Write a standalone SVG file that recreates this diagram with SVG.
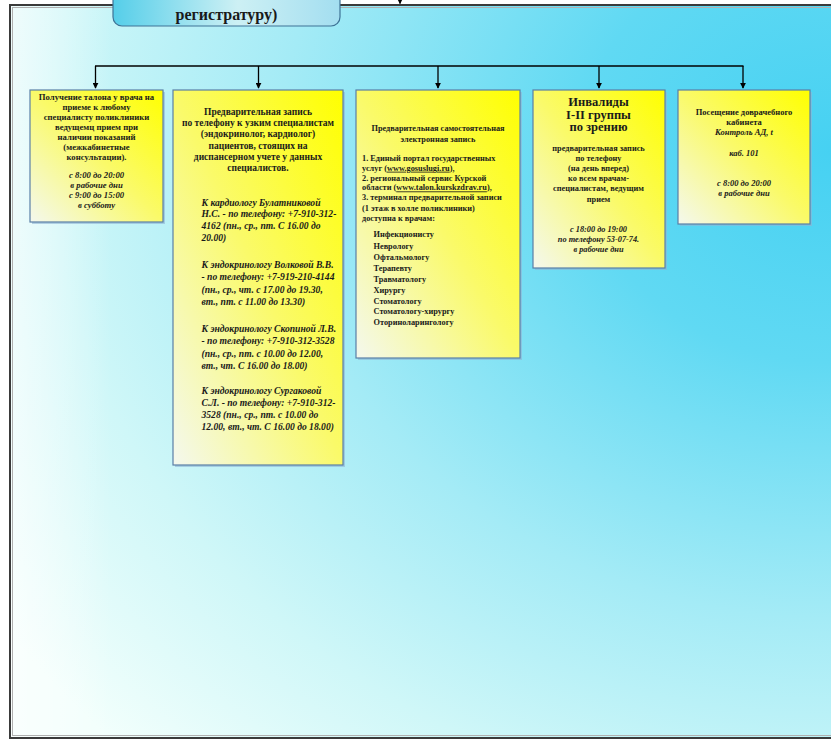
<svg xmlns="http://www.w3.org/2000/svg" width="831" height="741" viewBox="0 0 831 741">
<defs>
  <radialGradient id="bg" gradientUnits="userSpaceOnUse" cx="831" cy="150" r="1000" gradientTransform="translate(831 150) scale(1 0.85) translate(-831 -150)">
    <stop offset="0" stop-color="#46d1f2"/>
    <stop offset="0.25" stop-color="#60d9f3"/>
    <stop offset="0.55" stop-color="#a4ebf6"/>
    <stop offset="0.78" stop-color="#cff7f8"/>
    <stop offset="1" stop-color="#f2fffc"/>
  </radialGradient>
  <linearGradient id="edge" x1="0" y1="0" x2="1" y2="0">
    <stop offset="0" stop-color="#ffffff" stop-opacity="0.6"/>
    <stop offset="0.12" stop-color="#ffffff" stop-opacity="0"/>
    <stop offset="1" stop-color="#ffffff" stop-opacity="0"/>
  </linearGradient>
  <linearGradient id="hdr" x1="0" y1="0" x2="1" y2="0">
    <stop offset="0" stop-color="#55cee9"/>
    <stop offset="0.55" stop-color="#cdf0f4"/>
    <stop offset="1" stop-color="#a3def0"/>
  </linearGradient>
  <linearGradient id="yel" x1="1" y1="0" x2="0" y2="1">
    <stop offset="0" stop-color="#ffff00"/>
    <stop offset="0.5" stop-color="#fafa6a"/>
    <stop offset="1" stop-color="#f4f8ee"/>
  </linearGradient>
  <marker id="arr" viewBox="0 0 8 8" refX="7" refY="4" markerWidth="6" markerHeight="6" orient="auto" markerUnits="userSpaceOnUse">
    <path d="M0,0 L8,4 L0,8 Z" fill="#000"/>
  </marker>
  <style>
    .box{fill:url(#yel);stroke:#5a7fa6;stroke-width:1.2}
    .sh{fill:#8fb4d4;opacity:0.6}
    .t{font-family:"Liberation Serif","Times New Roman",serif;font-weight:bold;fill:#1a1a1a}
    .c{text-anchor:middle}
    .i{font-style:italic}
    .con{stroke:#000;stroke-width:1.3;fill:none}
  </style>
</defs>

<rect x="0" y="0" width="831" height="741" fill="#ffffff"/>
<rect x="10" y="5" width="840" height="733" fill="url(#bg)"/>
<rect x="10" y="5" width="840" height="733" fill="url(#edge)"/>
<rect x="10" y="5" width="840" height="733" fill="none" stroke="#3a3a3a" stroke-width="2"/>
<rect x="12.5" y="7.5" width="840" height="728" fill="none" stroke="#b0b0b0" stroke-width="1"/>

<g id="header">
  <rect x="113" y="-20" width="227" height="46" rx="9" fill="url(#hdr)" stroke="#3f7396" stroke-width="1.2"/>
  <text class="t c" x="226.5" y="20" font-size="16">регистратуру)</text>
</g>

<g id="connectors">
  <line class="con" x1="400" y1="-6" x2="400" y2="3.5" marker-end="url(#arr)"/>
  <line class="con" x1="95" y1="66" x2="743.5" y2="66"/>
  <line class="con" x1="95.5" y1="66" x2="95.5" y2="88" marker-end="url(#arr)"/>
  <line class="con" x1="258.5" y1="66" x2="258.5" y2="88" marker-end="url(#arr)"/>
  <line class="con" x1="438" y1="66" x2="438" y2="88" marker-end="url(#arr)"/>
  <line class="con" x1="599" y1="66" x2="599" y2="88" marker-end="url(#arr)"/>
  <line class="con" x1="743" y1="66" x2="743" y2="88" marker-end="url(#arr)"/>
</g>

<g id="box1">
  <rect class="sh" x="32" y="92" width="133" height="132"/>
  <rect class="box" x="30" y="90" width="133" height="132"/>
  <g class="t c" font-size="8.7">
    <text x="96.5" y="100">Получение талона у врача на</text>
    <text x="96.5" y="110">приеме к любому</text>
    <text x="96.5" y="120">специалисту поликлиники</text>
    <text x="96.5" y="130">ведущемц прием при</text>
    <text x="96.5" y="140">наличии показаний</text>
    <text x="96.5" y="150">(межкабинетные</text>
    <text x="96.5" y="160">консультации).</text>
    <text class="i" x="96.5" y="178">с 8:00 до 20:00</text>
    <text class="i" x="96.5" y="188">в рабочие дни</text>
    <text class="i" x="96.5" y="198">с 9:00 до 15:00</text>
    <text class="i" x="96.5" y="208">в субботу</text>
  </g>
</g>

<g id="box2">
  <rect class="sh" x="175" y="92" width="170" height="375"/>
  <rect class="box" x="173" y="90" width="170" height="375"/>
  <g class="t c" font-size="9.5">
    <text x="258" y="115">Предварительная запись</text>
    <text x="258" y="126.2">по телефону к узким специалистам</text>
    <text x="258" y="137.4">(эндокринолог, кардиолог)</text>
    <text x="258" y="148.6">пациентов, стоящих на</text>
    <text x="258" y="159.8">диспансерном учете у данных</text>
    <text x="258" y="171">специалистов.</text>
  </g>
  <g class="t i" font-size="9.6">
    <text x="201.5" y="205.5">К кардиологу Булатниковой</text>
    <text x="201.5" y="217">Н.С. - по телефону: +7-910-312-</text>
    <text x="201.5" y="228.5">4162 (пн., ср., пт. С 16.00 до</text>
    <text x="201.5" y="240.5">20.00)</text>
    <text x="201.5" y="267.5">К эндокринологу Волковой В.В.</text>
    <text x="201.5" y="280">- по телефону: +7-919-210-4144</text>
    <text x="201.5" y="292.5">(пн., ср., чт. с 17.00 до 19.30,</text>
    <text x="201.5" y="305">вт., пт. с 11.00 до 13.30)</text>
    <text x="201.5" y="331.5">К эндокринологу Скопиной Л.В.</text>
    <text x="201.5" y="344">- по телефону: +7-910-312-3528</text>
    <text x="201.5" y="356.5">(пн., ср., пт. с 10.00 до 12.00,</text>
    <text x="201.5" y="369">вт., чт. С 16.00 до 18.00)</text>
    <text x="201.5" y="393.5">К эндокринологу Сургаковой</text>
    <text x="201.5" y="405.5">С.Л. - по телефону: +7-910-312-</text>
    <text x="201.5" y="417.5">3528 (пн., ср., пт. с 10.00 до</text>
    <text x="201.5" y="429.5">12.00, вт., чт. С 16.00 до 18.00)</text>
  </g>
</g>

<g id="box3">
  <rect class="sh" x="358" y="92" width="164" height="268"/>
  <rect class="box" x="356" y="90" width="164" height="268"/>
  <g class="t c" font-size="8.3">
    <text x="438" y="131.3">Предварительная самостоятельная</text>
    <text x="438" y="142.3">электронная запись</text>
  </g>
  <g class="t" font-size="8.3">
    <text x="362" y="160.7">1. Единый портал государственных</text>
    <text x="362" y="170.7">услуг (<tspan text-decoration="underline">www.gosuslugi.ru</tspan>),</text>
    <text x="362" y="180.7">2. региональный сервис Курской</text>
    <text x="362" y="190.4">области (<tspan text-decoration="underline">www.talon.kurskzdrav.ru</tspan>),</text>
    <text x="362" y="200.3">3. терминал предварительной записи</text>
    <text x="362" y="210.7">(1 этаж в холле поликлиники)</text>
    <text x="362" y="220.7">доступна к врачам:</text>
    <text x="373.5" y="237.3">Инфекционисту</text>
    <text x="373.5" y="248.5">Неврологу</text>
    <text x="373.5" y="259.5">Офтальмологу</text>
    <text x="373.5" y="270.5">Терапевту</text>
    <text x="373.5" y="281.6">Травматологу</text>
    <text x="373.5" y="292.8">Хирургу</text>
    <text x="373.5" y="303.7">Стоматологу</text>
    <text x="373.5" y="314.2">Стоматологу-хирургу</text>
    <text x="373.5" y="324.5">Оториноларингологу</text>
  </g>
</g>

<g id="box4">
  <rect class="sh" x="535" y="92" width="132" height="178"/>
  <rect class="box" x="533" y="90" width="132" height="178"/>
  <g class="t c" font-size="12.5">
    <text x="598.5" y="105.5">Инвалиды</text>
    <text x="598.5" y="118.5">I-II группы</text>
    <text x="598.5" y="131">по зрению</text>
  </g>
  <g class="t c" font-size="8.3">
    <text x="598.5" y="150.7">предварительная запись</text>
    <text x="598.5" y="160.7">по телефону</text>
    <text x="598.5" y="170.7">(на день вперед)</text>
    <text x="598.5" y="180.7">ко всем врачам-</text>
    <text x="598.5" y="191.3">специалистам, ведущим</text>
    <text x="598.5" y="202.3">прием</text>
    <text class="i" x="598.5" y="232.3">с 18:00 до 19:00</text>
    <text class="i" x="598.5" y="242.3">по телефону 53-07-74.</text>
    <text class="i" x="598.5" y="252.3">в рабочие дни</text>
  </g>
</g>

<g id="box5">
  <rect class="sh" x="680" y="92" width="132" height="134"/>
  <rect class="box" x="678" y="90" width="132" height="134"/>
  <g class="t c" font-size="8.5">
    <text x="744" y="115.3">Посещение доврачебного</text>
    <text x="744" y="124.7">кабинета</text>
    <text class="i" x="744" y="134.7">Контроль АД, t</text>
    <text class="i" x="744" y="155.7">каб. 101</text>
    <text class="i" x="744" y="186.3">с 8:00 до 20:00</text>
    <text class="i" x="744" y="196.3">в рабочие дни</text>
  </g>
</g>
</svg>
